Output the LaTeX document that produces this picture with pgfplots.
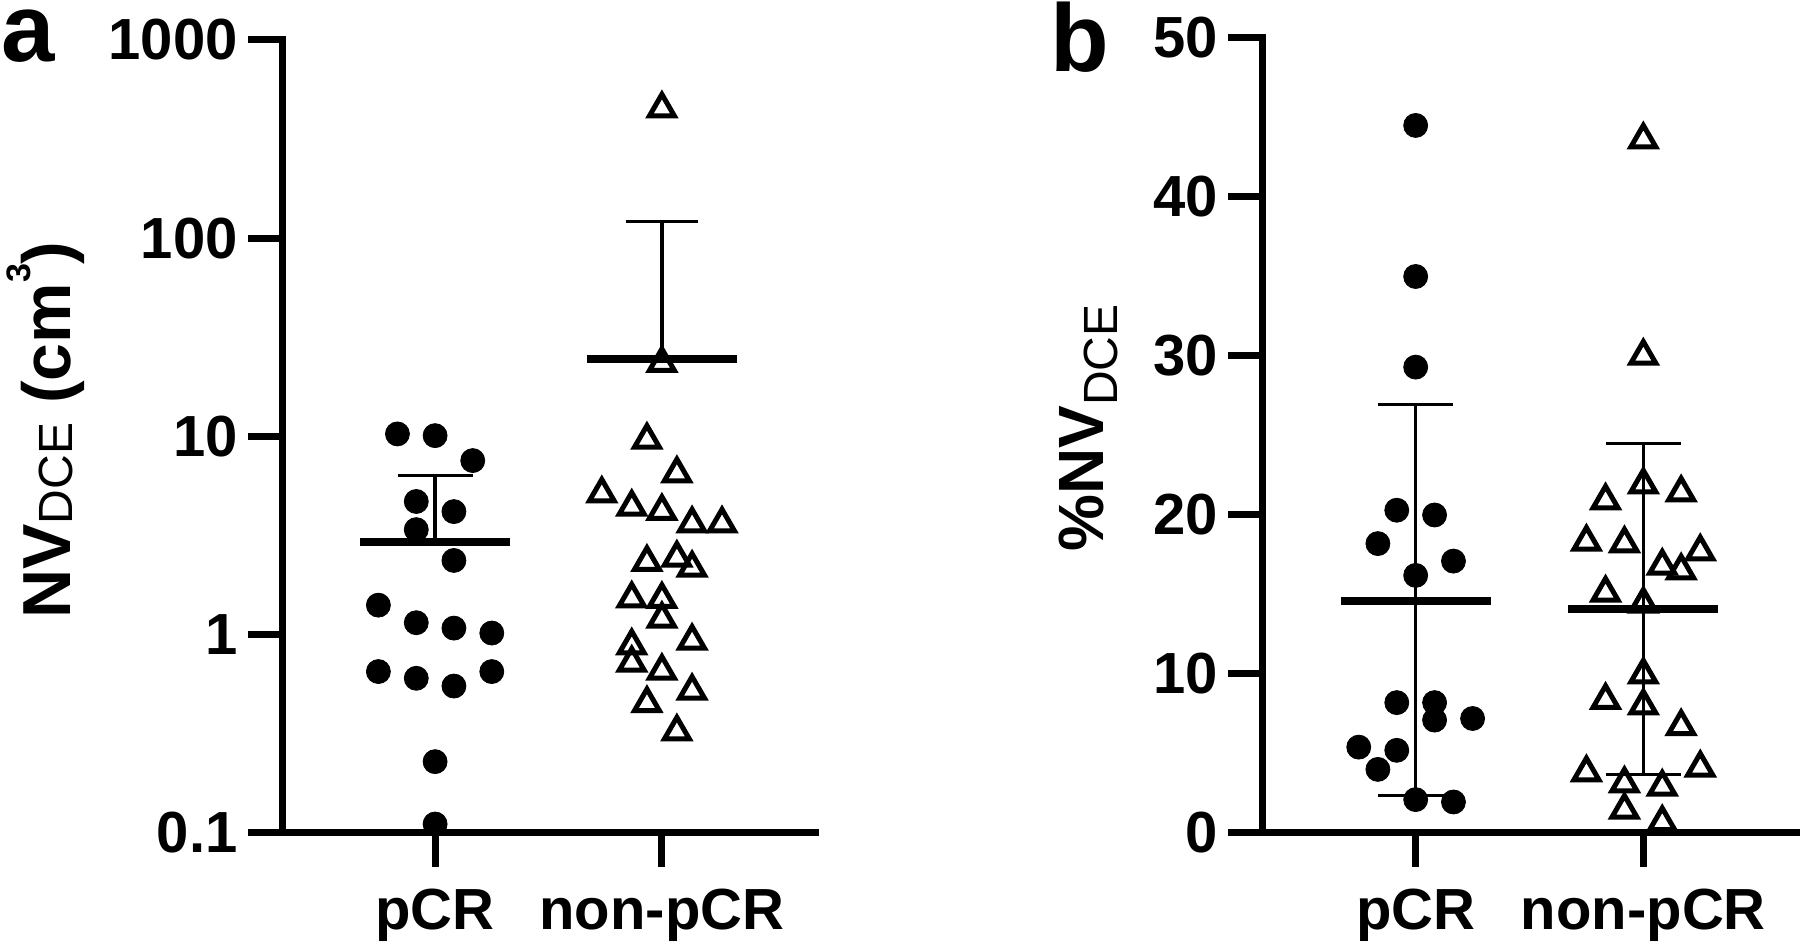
\documentclass[border=0pt]{standalone}
\usepackage{fontspec}
\setmainfont{Liberation Sans}
\usepackage{pgfplots}
\pgfplotsset{compat=1.18}
\pgfplotsset{
  gp/.style={
    scale only axis, clip=false,
    axis lines=left,
    axis line style={-, line width=3.5pt, line cap=rect},
    xmin=-0.675, xmax=1.675,
    xtick={0,1}, xticklabels={pCR,non-pCR},
    tick align=outside, major tick length=17pt,
    tick style={black, line width=3.5pt},
    minor tick num=0,
    ticklabel style={font=\fontsize{29}{29}\selectfont\bfseries, inner sep=0pt},
    yticklabel style={xshift=-5pt},
    xticklabel style={yshift=-11pt, anchor=north},
  },
  circ/.style={only marks, mark=*, mark size=6pt, black},
  tri/.style={only marks, mark=triangle, mark size=7.2pt, black,
    mark options={line width=2.5pt, line join=miter, fill=none}},
  meanl/.style={black, line width=4pt, forget plot},
  errl/.style={black, line width=1.6pt, forget plot},
}
\begin{document}
\begin{tikzpicture}
\path[use as bounding box] (0,0) rectangle (900pt,473pt);
% ---------------- panel a ----------------
\begin{axis}[gp, at={(141pt,56.5pt)}, anchor=south west,
  width=266.5pt, height=396.5pt,
  ymode=log, ymin=0.1, ymax=1000, yminorticks=false,
  ytick={0.1,1,10,100,1000}, yticklabels={0.1,1,10,100,1000}]
\addplot[circ] coordinates {
 (-0.166,10.3) (0,10.1) (0.166,7.56) (-0.083,4.7) (0.083,4.18)
 (-0.083,3.39) (0.083,2.37) (-0.25,1.41) (-0.083,1.15) (0.083,1.08)
 (0.25,1.02) (-0.25,0.652) (-0.083,0.603) (0.083,0.551) (0.25,0.652)
 (0,0.229) (0,0.111)};
\addplot[tri] coordinates {
 (1,450) (1,23.4) (0.934,9.6) (1.066,6.5) (0.735,5.14) (0.867,4.41)
 (1,4.2) (1.133,3.63) (1.265,3.63) (0.934,2.32) (1.066,2.44) (1.133,2.17)
 (0.867,1.52) (1,1.51) (1,1.2) (1.133,0.93) (0.867,0.88) (0.867,0.72)
 (1,0.656) (1.133,0.52) (0.934,0.45) (1.066,0.324)};
% pCR mean and SD
\addplot[meanl] coordinates {(-0.33,2.95) (0.33,2.95)};
\addplot[errl] coordinates {(0,2.95) (0,6.34)};
\addplot[errl] coordinates {(-0.165,6.34) (0.165,6.34)};
% non-pCR mean and SD
\addplot[meanl] coordinates {(0.67,24.6) (1.33,24.6)};
\addplot[errl] coordinates {(1,24.6) (1,121)};
\addplot[errl] coordinates {(0.84,121) (1.16,121)};
\end{axis}
% ---------------- panel b ----------------
\begin{axis}[gp, at={(631pt,56.5pt)}, anchor=south west,
  width=267.5pt, height=397.5pt,
  ymin=0, ymax=50,
  ytick={0,10,20,30,40,50}, yticklabels={0,10,20,30,40,50}]
\addplot[circ] coordinates {
 (0,44.5) (0,35.0) (0,29.3) (-0.083,20.3) (0.083,20.0) (-0.166,18.2)
 (0.166,17.1) (0,16.2) (-0.083,8.2) (0.083,8.2) (0.083,7.1) (0.25,7.2)
 (-0.25,5.4) (-0.083,5.2) (-0.166,4.0) (0,2.1) (0.166,1.95)};
\addplot[tri] coordinates {
 (1,43.6) (1,30.0) (1,21.9) (0.834,20.9) (1.166,21.4) (0.75,18.3)
 (0.917,18.2) (1.25,17.7) (1.083,16.8) (1.166,16.5) (0.834,15.1) (1,14.4)
 (1,9.95) (0.834,8.35) (1,8.0) (1.166,6.7) (0.75,3.8) (1.25,4.1)
 (0.917,3.1) (1.083,2.9) (0.917,1.45) (1.083,0.66)};
\addplot[meanl] coordinates {(-0.33,14.6) (0.33,14.6)};
\addplot[errl] coordinates {(0,2.35) (0,26.95)};
\addplot[errl] coordinates {(-0.164,26.95) (0.164,26.95)};
\addplot[errl] coordinates {(-0.164,2.35) (0.164,2.35)};
\addplot[meanl] coordinates {(0.67,14.1) (1.33,14.1)};
\addplot[errl] coordinates {(1,3.66) (1,24.5)};
\addplot[errl] coordinates {(0.836,24.5) (1.164,24.5)};
\addplot[errl] coordinates {(0.836,3.66) (1.164,3.66)};
\end{axis}
% axis titles and panel letters
\node[rotate=90, anchor=base, inner sep=0pt] at (35pt,258pt)
  {\fontsize{34}{34}\selectfont\bfseries NV\raisebox{-1pt}{\mdseries\fontsize{24}{24}\selectfont DCE} (cm\raisebox{20pt}{\fontsize{17}{17}\selectfont 3})};
\node[rotate=90, anchor=base, inner sep=0pt] at (551.5pt,259pt)
  {\fontsize{32}{32}\selectfont\bfseries \%NV\raisebox{-7pt}{\mdseries\fontsize{24}{24}\selectfont DCE}};
\node[anchor=base west, inner sep=0pt] at (0.5pt,442pt)
  {\fontsize{48}{48}\selectfont\bfseries a};
\node[anchor=base west, inner sep=0pt] at (525pt,437pt)
  {\fontsize{48}{48}\selectfont\bfseries b};
\end{tikzpicture}
\end{document}
